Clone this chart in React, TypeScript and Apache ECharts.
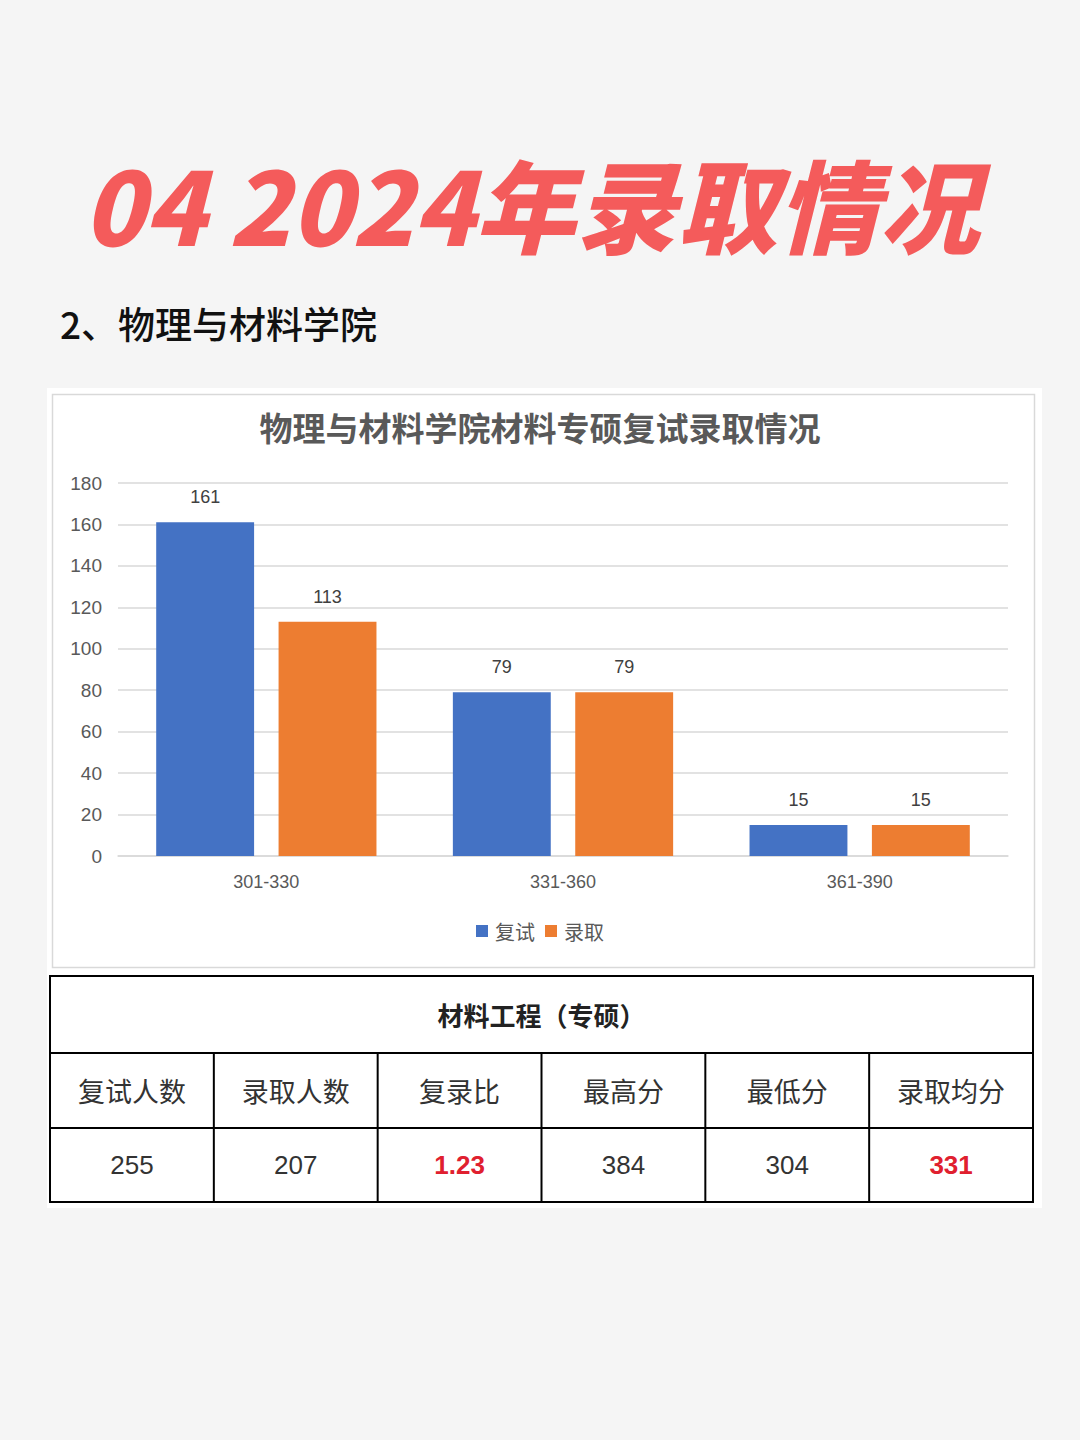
import React, { useEffect, useRef } from "react";
import * as echarts from "echarts";

const pageTitle = "04 2024年录取情况";
const sectionTitle = "2、物理与材料学院";
const chartTitle = "物理与材料学院材料专硕复试录取情况";
const categories = ["301-330", "331-360", "361-390"];
const seriesNames = ["复试", "录取"];
const retestCounts = [161, 79, 15];
const admitCounts = [113, 79, 15];
const yMin = 0;
const yMax = 180;
const yInterval = 20;
const tableTitle = "材料工程（专硕）";
const tableHeaders = ["复试人数", "录取人数", "复录比", "最高分", "最低分", "录取均分"];
const tableValues = ["255", "207", "1.23", "384", "304", "331"];
const tableHighlight = [false, false, true, false, false, true];

const CJK = "'Noto Sans CJK SC', 'Noto Sans', sans-serif";
const LAT = "'Liberation Sans', 'Noto Sans CJK SC', sans-serif";

export default function App() {
  const ref = useRef<HTMLDivElement>(null);
  useEffect(() => {
    if (!ref.current) return;
    const chart = echarts.init(ref.current, null, { renderer: "svg" });

    const tLeft = 50;
    const tRight = 1033;
    const rows = [976, 1053, 1128, 1202];
    const colW = (tRight - tLeft) / tableHeaders.length;
    const graphics: any[] = [
      {
        type: "rect",
        z: -10,
        shape: { x: 0, y: 0, width: 1080, height: 1440 },
        style: { fill: "#f5f5f5" },
      },
      {
        type: "rect",
        z: -9,
        shape: { x: 47, y: 388, width: 995, height: 820 },
        style: { fill: "#ffffff" },
      },
      {
        type: "rect",
        z: -8,
        shape: { x: 52.5, y: 394.5, width: 982, height: 573 },
        style: { fill: "#ffffff", stroke: "#d9d9d9", lineWidth: 1.5 },
      },
      {
        type: "text",
        x: 531,
        y: 202,
        style: {
          text: pageTitle,
          fill: "#f45b5b",
          font: `italic 900 101px ${CJK}`,
          align: "center",
          verticalAlign: "middle",
        },
      },
      {
        type: "text",
        x: 60,
        y: 323,
        style: {
          text: sectionTitle,
          fill: "#111111",
          font: `500 37px ${CJK}`,
          align: "left",
          verticalAlign: "middle",
        },
      },
      {
        type: "rect",
        shape: { x: tLeft, y: rows[0], width: tRight - tLeft, height: rows[3] - rows[0] },
        style: { fill: "#ffffff", stroke: "#000000", lineWidth: 2 },
      },
      {
        type: "text",
        x: (tLeft + tRight) / 2,
        y: (rows[0] + rows[1]) / 2,
        style: {
          text: tableTitle,
          fill: "#222222",
          font: `bold 26px ${CJK}`,
          align: "center",
          verticalAlign: "middle",
        },
      },
    ];
    [rows[1], rows[2]].forEach((y) => {
      graphics.push({
        type: "line",
        shape: { x1: tLeft, y1: y, x2: tRight, y2: y },
        style: { stroke: "#000000", lineWidth: 2 },
      });
    });
    for (let i = 1; i < tableHeaders.length; i++) {
      const x = tLeft + colW * i;
      graphics.push({
        type: "line",
        shape: { x1: x, y1: rows[1], x2: x, y2: rows[3] },
        style: { stroke: "#000000", lineWidth: 2 },
      });
    }
    tableHeaders.forEach((h, i) => {
      const cx = tLeft + colW * (i + 0.5);
      graphics.push({
        type: "text",
        x: cx,
        y: (rows[1] + rows[2]) / 2,
        style: {
          text: h,
          fill: "#333333",
          font: `27px ${CJK}`,
          align: "center",
          verticalAlign: "middle",
        },
      });
      graphics.push({
        type: "text",
        x: cx,
        y: (rows[2] + rows[3]) / 2,
        style: {
          text: tableValues[i],
          fill: tableHighlight[i] ? "#e0202f" : "#333333",
          font: `${tableHighlight[i] ? "bold " : ""}26px ${LAT}`,
          align: "center",
          verticalAlign: "middle",
        },
      });
    });

    const labelStyle = {
      show: true,
      position: "top" as const,
      distance: 16,
      fontSize: 18,
      color: "#404040",
      fontFamily: LAT,
    };

    chart.setOption({
      animation: false,
      backgroundColor: "transparent",
      title: {
        text: chartTitle,
        left: "center",
        top: 410,
        padding: 0,
        textStyle: {
          fontSize: 33,
          fontWeight: "bold",
          color: "#595959",
          fontFamily: CJK,
        },
      },
      legend: {
        data: seriesNames,
        left: "center",
        top: 916,
        itemWidth: 12,
        itemHeight: 12,
        itemGap: 10,
        icon: "rect",
        textStyle: { fontSize: 20, color: "#595959", fontFamily: CJK, padding: [0, 0, 0, 2] },
      },
      grid: { left: 118, right: 72, top: 483, bottom: 584, containLabel: false },
      xAxis: {
        type: "category",
        data: categories,
        axisLine: { lineStyle: { color: "#d9d9d9", width: 1.5 } },
        axisTick: { show: false },
        axisLabel: { fontSize: 18, color: "#595959", margin: 17, fontFamily: LAT },
      },
      yAxis: {
        type: "value",
        min: yMin,
        max: yMax,
        interval: yInterval,
        axisLine: { show: false },
        axisTick: { show: false },
        splitLine: { lineStyle: { color: "#d9d9d9", width: 1.5 } },
        axisLabel: { fontSize: 19, color: "#595959", margin: 16, fontFamily: LAT },
      },
      series: [
        {
          name: seriesNames[0],
          type: "bar",
          data: retestCounts,
          barWidth: "33%",
          barGap: "25%",
          itemStyle: { color: "#4472c4" },
          label: labelStyle,
        },
        {
          name: seriesNames[1],
          type: "bar",
          data: admitCounts,
          barWidth: "33%",
          barGap: "25%",
          itemStyle: { color: "#ed7d31" },
          label: labelStyle,
        },
      ],
      graphic: graphics,
    });
    return () => chart.dispose();
  }, []);

  return (
    <div
      ref={ref}
      style={{ position: "absolute", left: 0, top: 0, width: 1080, height: 1440 }}
    />
  );
}
